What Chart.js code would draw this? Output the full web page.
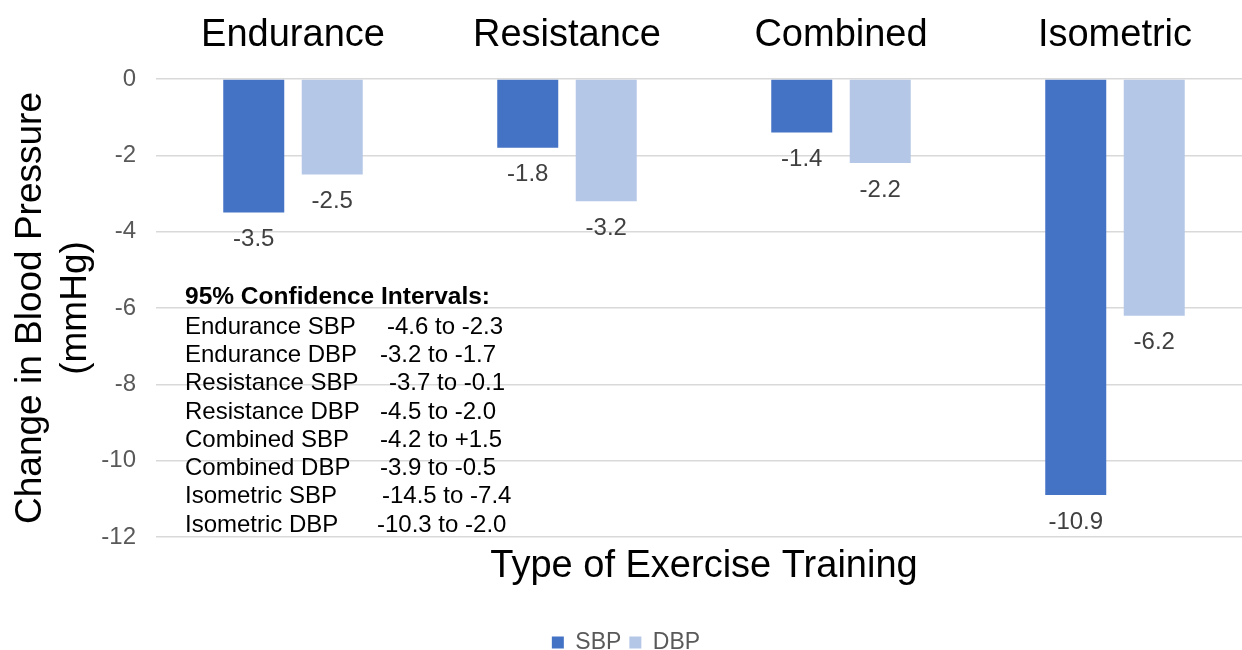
<!DOCTYPE html>
<html>
<head>
<meta charset="utf-8">
<script src="https://cdn.jsdelivr.net/npm/chart.js@4/dist/chart.umd.min.js"></script>
<style>
  html, body { margin: 0; padding: 0; background: #fff; overflow: hidden; width: 1242px; height: 650px; }
  #wrap { position: relative; width: 1256px; height: 664px; }
</style>
</head>
<body>
<div id="wrap"><canvas id="c"></canvas></div>
<script>
const categories = ['Endurance', 'Resistance', 'Combined', 'Isometric'];
const sbpValues = [-3.5, -1.8, -1.4, -10.9];
const dbpValues = [-2.5, -3.2, -2.2, -6.2];
const yTicks = [0, -2, -4, -6, -8, -10, -12];
const ciTitle = '95% Confidence Intervals:';
const ciLabels = ['Endurance SBP', 'Endurance DBP', 'Resistance SBP', 'Resistance DBP',
                  'Combined SBP', 'Combined DBP', 'Isometric SBP', 'Isometric DBP'];
const ciRanges = ['-4.6 to -2.3', '-3.2 to -1.7', '-3.7 to -0.1', '-4.5 to -2.0',
                  '-4.2 to +1.5', '-3.9 to -0.5', '-14.5 to -7.4', '-10.3 to -2.0'];

const FONT = "'Liberation Sans', Arial, Helvetica, sans-serif";

const dataLabels = {
  id: 'dataLabels',
  afterDatasetsDraw(chart) {
    const ctx = chart.ctx;
    ctx.save();
    ctx.font = '24px ' + FONT;
    ctx.fillStyle = '#404040';
    ctx.textAlign = 'center';
    ctx.textBaseline = 'middle';
    chart.data.datasets.forEach((ds, i) => {
      const meta = chart.getDatasetMeta(i);
      meta.data.forEach((el, j) => {
        ctx.fillText(ds.data[j].toFixed(1), el.x, el.y + 27);
      });
    });
    ctx.restore();
  }
};

const ciBox = {
  id: 'ciBox',
  afterDatasetsDraw(chart) {
    const ctx = chart.ctx;
    const valueX = [387, 380, 389, 380, 380, 380, 382, 377];
    ctx.save();
    ctx.fillStyle = '#000';
    ctx.textAlign = 'left';
    ctx.textBaseline = 'middle';
    ctx.font = 'bold 24.5px ' + FONT;
    ctx.fillText(ciTitle, 185, 297);
    ctx.font = '24px ' + FONT;
    ciLabels.forEach((lab, i) => {
      const y = 327 + i * 28.3;
      ctx.fillText(lab, 185, y);
      ctx.fillText(ciRanges[i], valueX[i], y);
    });
    ctx.restore();
  }
};

new Chart(document.getElementById('c'), {
  type: 'bar',
  data: {
    labels: categories,
    datasets: [
      { label: 'SBP', data: sbpValues, backgroundColor: '#4472C4', xAxisID: 'x', yAxisID: 'y',
        categoryPercentage: 0.573, barPercentage: 0.777 },
      { label: 'DBP', data: dbpValues, backgroundColor: '#B4C7E7', xAxisID: 'x', yAxisID: 'y',
        categoryPercentage: 0.573, barPercentage: 0.777 }
    ]
  },
  options: {
    responsive: true,
    maintainAspectRatio: false,
    animation: false,
    layout: { padding: { left: 0, right: 4, top: 0, bottom: 0 } },
    plugins: {
      tooltip: { enabled: false },
      legend: {
        position: 'bottom',
        labels: {
          font: { family: FONT, size: 23 },
          color: '#595959',
          boxWidth: 12,
          boxHeight: 12,
          padding: 8
        }
      }
    },
    scales: {
      x: {
        type: 'category',
        position: 'top',
        grid: { display: false, drawTicks: false },
        border: { display: false },
        ticks: { font: { family: FONT, size: 38 }, color: '#000', padding: 21, maxRotation: 0 },
        afterFit(s) { s.height = 79; }
      },
      x2: {
        type: 'category',
        position: 'bottom',
        labels: categories,
        grid: { display: false, drawTicks: false },
        border: { display: false },
        ticks: { display: false },
        title: { display: true, text: 'Type of Exercise Training', font: { family: FONT, size: 38 },
                 color: '#000', padding: { top: 0, bottom: 34 } },
        afterFit(s) { s.height = 86; }
      },
      y: {
        min: -12,
        max: 0,
        afterBuildTicks(s) { s.ticks = yTicks.map(v => ({ value: v })); },
        ticks: { font: { family: FONT, size: 24 }, color: '#595959', padding: 20 },
        grid: { color: '#d9d9d9', lineWidth: 1.5, drawTicks: false },
        border: { display: false },
        title: { display: true, text: ['Change in Blood Pressure', '(mmHg)'],
                 font: { family: FONT, size: 37, lineHeight: 1.22 }, color: '#000',
                 padding: { top: 8, bottom: 0 } },
        afterFit(s) { s.width = 156; }
      }
    }
  },
  plugins: [dataLabels, ciBox]
});
</script>
</body>
</html>
